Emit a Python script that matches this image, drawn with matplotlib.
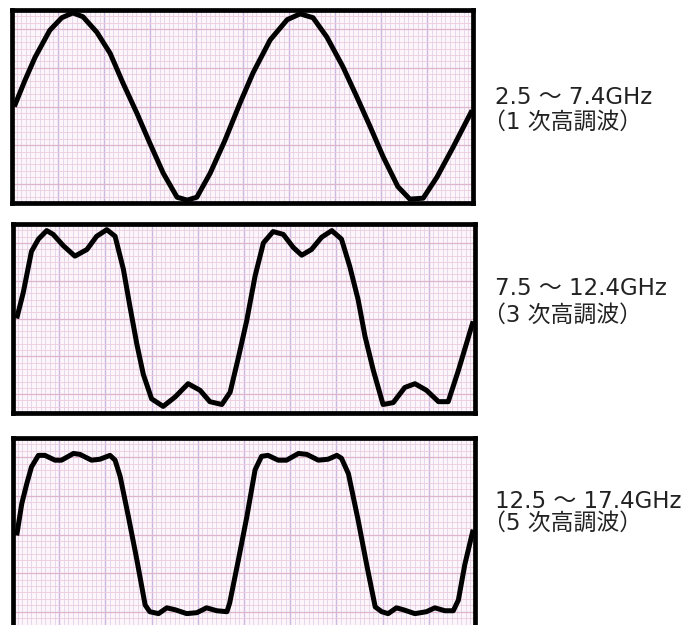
import matplotlib
matplotlib.use("Agg")
import matplotlib.pyplot as plt
from matplotlib.ticker import MultipleLocator

plt.rcParams['font.family'] = ['DejaVu Sans', 'Noto Sans CJK JP']

# waveform traces: time in screen divisions (0-10), amplitude relative to full scale (+-1)
t_h1 = [0.05, 0.28, 0.50, 0.82, 1.08, 1.32, 1.54, 1.84, 2.13, 2.41, 2.71, 2.99,
        3.28, 3.58, 3.80, 4.01, 4.30, 4.62, 4.95, 5.23, 5.60, 5.97, 6.25, 6.53,
        6.83, 7.18, 7.48, 7.77, 8.05, 8.37, 8.63, 8.92, 9.22, 9.57, 9.98]
v_h1 = [0.00, 0.27, 0.51, 0.79, 0.92, 0.97, 0.93, 0.77, 0.55, 0.24, -0.07, -0.38,
        -0.69, -0.94, -0.97, -0.94, -0.69, -0.35, 0.04, 0.35, 0.69, 0.90, 0.96, 0.92,
        0.72, 0.41, 0.10, -0.21, -0.52, -0.83, -0.96, -0.95, -0.73, -0.42, -0.04]

t_h3 = [0.08, 0.22, 0.40, 0.55, 0.73, 0.87, 1.09, 1.34, 1.60, 1.81, 2.03, 2.21,
        2.39, 2.53, 2.68, 2.82, 3.00, 3.25, 3.51, 3.79, 4.05, 4.26, 4.52, 4.70,
        4.88, 5.06, 5.24, 5.42, 5.63, 5.85, 6.07, 6.25, 6.46, 6.68, 6.90, 7.11,
        7.29, 7.47, 7.62, 7.80, 8.01, 8.23, 8.48, 8.70, 8.95, 9.21, 9.42, 9.64, 9.96]
v_h3 = [0.00, 0.27, 0.71, 0.84, 0.93, 0.89, 0.77, 0.66, 0.73, 0.87, 0.94, 0.87,
        0.52, 0.13, -0.27, -0.59, -0.85, -0.93, -0.83, -0.69, -0.76, -0.88, -0.91, -0.78,
        -0.41, -0.02, 0.45, 0.80, 0.92, 0.89, 0.75, 0.67, 0.73, 0.86, 0.93, 0.84,
        0.55, 0.20, -0.19, -0.55, -0.91, -0.89, -0.73, -0.69, -0.76, -0.88, -0.88, -0.55, -0.03]

t_h5 = [0.08, 0.19, 0.30, 0.40, 0.55, 0.69, 0.91, 1.05, 1.31, 1.45, 1.70, 1.88,
        2.10, 2.21, 2.32, 2.50, 2.68, 2.86, 2.96, 3.15, 3.33, 3.51, 3.76, 3.98,
        4.19, 4.41, 4.63, 4.69, 4.88, 5.06, 5.24, 5.38, 5.52, 5.74, 5.92, 6.18,
        6.36, 6.61, 6.82, 7.01, 7.11, 7.26, 7.47, 7.65, 7.84, 7.98, 8.12, 8.30,
        8.45, 8.70, 8.95, 9.13, 9.35, 9.53, 9.64, 9.78, 9.96]
v_h5 = [-0.01, 0.32, 0.53, 0.70, 0.82, 0.82, 0.77, 0.77, 0.84, 0.83, 0.77, 0.78,
        0.82, 0.77, 0.60, 0.18, -0.26, -0.73, -0.80, -0.82, -0.76, -0.78, -0.82, -0.81,
        -0.76, -0.79, -0.80, -0.71, -0.26, 0.18, 0.67, 0.81, 0.82, 0.77, 0.77, 0.84,
        0.83, 0.77, 0.78, 0.82, 0.79, 0.63, 0.15, -0.30, -0.75, -0.80, -0.82, -0.76,
        -0.78, -0.82, -0.80, -0.76, -0.79, -0.79, -0.68, -0.31, 0.05]

bands = ['2.5 〜 7.4GHz', '7.5 〜 12.4GHz', '12.5 〜 17.4GHz']
orders = ['（1 次高調波）', '（3 次高調波）', '（5 次高調波）']

W, H = 694, 625
fig = plt.figure(figsize=(W / 100, H / 100), dpi=100)

# panel boxes in pixels: left, top, right, bottom
boxes = [(12, 10, 473, 203), (13, 224, 475, 413), (13, 438, 475, 631)]
label_y = [(98, 122), (289, 315), (502, 523)]
traces = [(t_h1, v_h1), (t_h3, v_h3), (t_h5, v_h5)]

for (l, t, r, b), (tt, vv), band, order, (y1, y2) in zip(boxes, traces, bands, orders, label_y):
    ax = fig.add_axes([l / W, 1 - b / H, (r - l) / W, (b - t) / H])
    ax.set_facecolor('#fcf5f9')
    ax.set_xlim(0, 10)
    ax.set_ylim(-1, 1)
    ax.xaxis.set_major_locator(MultipleLocator(1))
    ax.xaxis.set_minor_locator(MultipleLocator(0.1))
    ax.yaxis.set_major_locator(MultipleLocator(0.4))
    ax.yaxis.set_minor_locator(MultipleLocator(0.4 / 6))
    ax.grid(which='minor', axis='x', color='#e2d3ea', lw=0.6)
    ax.grid(which='minor', axis='y', color='#edcbdb', lw=0.6)
    ax.grid(which='major', axis='x', color='#cbb8e0', lw=1.0)
    ax.grid(which='major', axis='y', color='#deb5cd', lw=0.9)
    ax.tick_params(which='both', length=0, labelbottom=False, labelleft=False)
    for s in ax.spines.values():
        s.set_linewidth(3.4)
        s.set_color('black')
    ax.plot(tt, vv, color='black', lw=3.6, solid_joinstyle='round', solid_capstyle='butt')

    fig.text(495 / W, 1 - y1 / H, band, fontsize=16.5, color='#222222', va='center', ha='left')
    fig.text(483 / W, 1 - y2 / H, order, fontsize=16.5, color='#222222', va='center', ha='left')

fig.savefig('out.png', dpi=100)
